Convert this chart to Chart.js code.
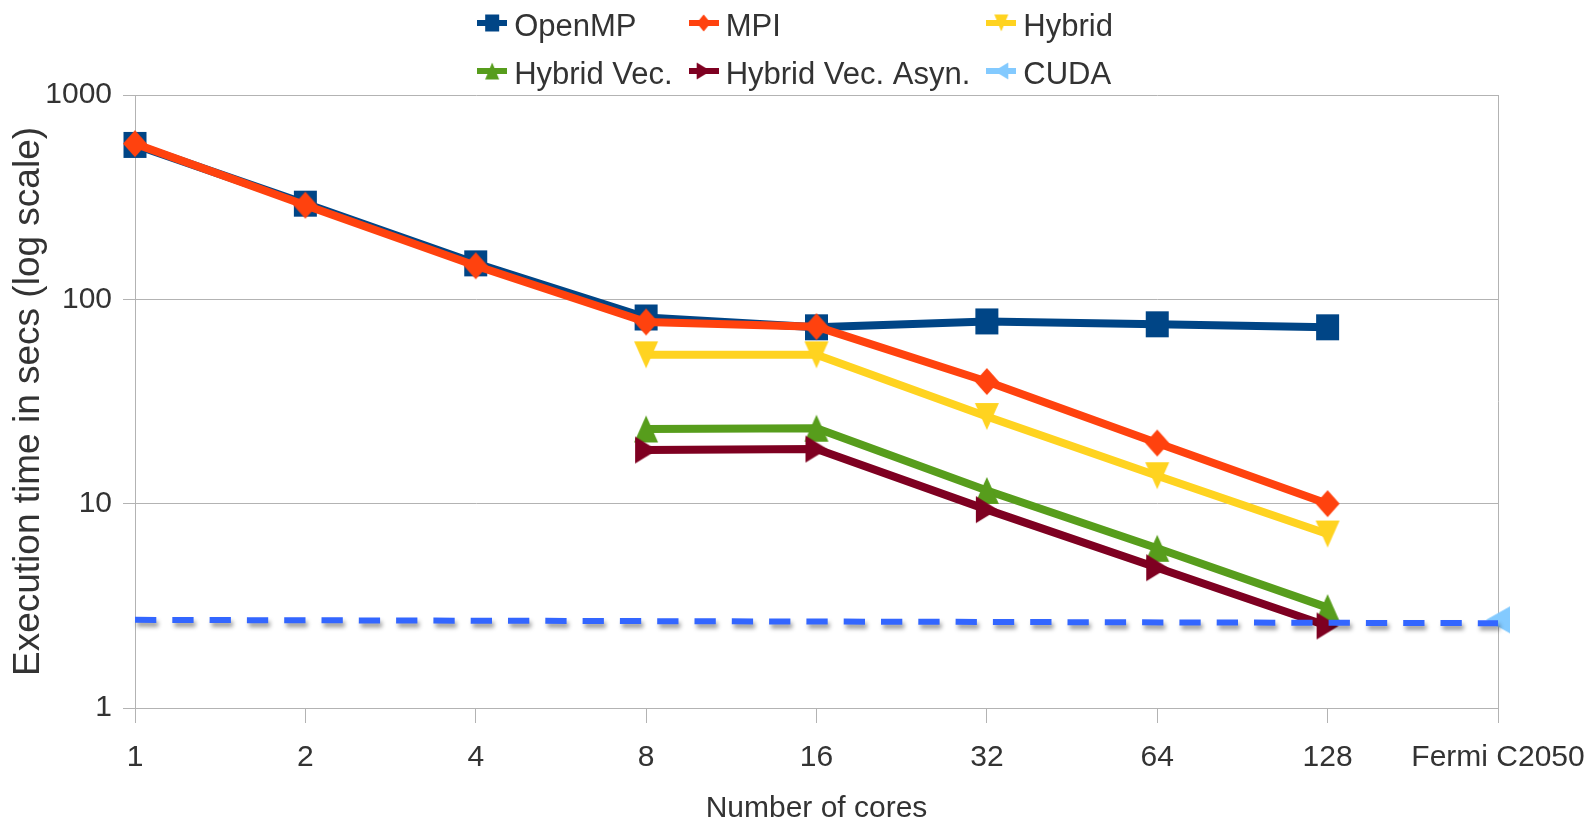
<!DOCTYPE html>
<html>
<head>
<meta charset="utf-8">
<script src="https://cdn.jsdelivr.net/npm/chart.js@4.4.0/dist/chart.umd.min.js"></script>
<style>
  html, body { margin: 0; padding: 0; background: #ffffff; overflow: hidden; }
  #wrap { position: relative; width: 1590px; height: 821px; background: #ffffff; }
</style>
</head>
<body>
<div id="wrap"><canvas id="chart"></canvas></div>
<script>
// ---- data ----
const categories = ['1', '2', '4', '8', '16', '32', '64', '128', 'Fermi C2050'];
const openmp        = [570, 294, 150, 81.5, 73, 78, 75.5, 73, null];
const mpi           = [578, 289, 146, 77.5, 73.5, 39.6, 19.8, 10, null];
const hybrid        = [null, null, null, 53.5, 53.5, 26.7, 13.7, 7.1, null];
const hybridVec     = [null, null, null, 23.2, 23.4, 11.6, 6.05, 3.1, null];
const hybridVecAsyn = [null, null, null, 18.3, 18.5, 9.35, 4.86, 2.52, null];
const cuda          = [null, null, null, null, null, null, null, null, 2.7];
const cudaLevel     = [2.7, null, null, null, null, null, null, null, 2.6];
const yTickValues   = [1, 10, 100, 1000];

const seriesNames  = ['OpenMP', 'MPI', 'Hybrid', 'Hybrid Vec.', 'Hybrid Vec. Asyn.', 'CUDA'];
const seriesColors = ['#004586', '#ff420e', '#ffd320', '#579d1c', '#7e0021', '#83caff'];
const seriesShapes = ['square', 'diamond', 'down', 'up', 'right', 'left'];
const seriesData   = [openmp, mpi, hybrid, hybridVec, hybridVecAsyn, cuda];

const FONT = 'Liberation Sans, Arial, sans-serif';
const TEXT = '#333333';
const GRID = '#b3b3b3';

// ---- marker symbols ----
function shapePath(g, shape, w, h) {
  const a = w / 2, b = h / 2;
  g.beginPath();
  switch (shape) {
    case 'square':  g.rect(-a, -b, w, h); break;
    case 'diamond': g.moveTo(0, -b); g.lineTo(a, 0); g.lineTo(0, b); g.lineTo(-a, 0); break;
    case 'down':    g.moveTo(-a, -b); g.lineTo(a, -b); g.lineTo(0, b); break;
    case 'up':      g.moveTo(0, -b); g.lineTo(a, b); g.lineTo(-a, b); break;
    case 'right':   g.moveTo(-a, -b); g.lineTo(a, 0); g.lineTo(-a, b); break;
    case 'left':    g.moveTo(a, -b); g.lineTo(-a, 0); g.lineTo(a, b); break;
  }
  g.closePath();
}

const markerSize = {
  square: [23, 26], diamond: [24, 27], down: [24, 27],
  up: [24, 27], right: [22, 27], left: [24, 27]
};

function markerCanvas(shape, color) {
  const [w, h] = markerSize[shape];
  const c = document.createElement('canvas');
  c.width = w + 2; c.height = h + 2;
  const g = c.getContext('2d');
  g.translate(c.width / 2, c.height / 2);
  g.fillStyle = color;
  shapePath(g, shape, w, h);
  g.fill();
  return c;
}

// legend key: short line with a small marker on it
function legendSymbol(shape, color) {
  const c = document.createElement('canvas');
  c.width = 30; c.height = 20;
  const g = c.getContext('2d');
  g.fillStyle = color;
  g.fillRect(0, 7, 30, 6);
  g.translate(15, 10);
  shapePath(g, shape, 14, 17);
  g.fill();
  return c;
}

// ---- legend drawn as a 3-column grid above the plot ----
const legendGrid = {
  id: 'legendGrid',
  afterDraw(chart, args, opts) {
    const ctx = chart.ctx;
    const cols = opts.columns;
    const symW = 30, symGap = 7, colGap = 16;
    ctx.save();
    ctx.font = opts.fontSize + 'px ' + FONT;
    ctx.fillStyle = TEXT;
    ctx.textBaseline = 'alphabetic';
    ctx.textAlign = 'left';
    const widths = seriesNames.map(n => symW + symGap + ctx.measureText(n).width);
    const colW = [];
    for (let c = 0; c < cols; c++) {
      let m = 0;
      for (let i = c; i < seriesNames.length; i += cols) m = Math.max(m, widths[i]);
      colW.push(m);
    }
    const total = colW.reduce((s, v) => s + v, 0) + colGap * (cols - 1);
    const x0 = (chart.width - total) / 2;
    seriesNames.forEach((name, i) => {
      const r = Math.floor(i / cols), c = i % cols;
      let x = x0;
      for (let k = 0; k < c; k++) x += colW[k] + colGap;
      const base = opts.baselines[r];
      const sym = legendSymbol(seriesShapes[i], seriesColors[i]);
      ctx.drawImage(sym, x, base - 13 - sym.height / 2);
      ctx.fillText(name, x + symW + symGap, base);
    });
    ctx.restore();
  }
};

// ---- soft drop shadow for datasets flagged with `shadow` ----
const lineShadow = {
  id: 'lineShadow',
  beforeDatasetDraw(chart, args) {
    const ds = chart.data.datasets[args.index];
    if (!ds.shadow) return;
    const ctx = chart.ctx;
    ctx.save();
    ctx.shadowColor = 'rgba(0,0,0,0.38)';
    ctx.shadowBlur = 4;
    ctx.shadowOffsetX = 2;
    ctx.shadowOffsetY = 4;
  },
  afterDatasetDraw(chart, args) {
    const ds = chart.data.datasets[args.index];
    if (!ds.shadow) return;
    chart.ctx.restore();
  }
};

const datasets = seriesNames.map((name, i) => ({
  label: name,
  data: seriesData[i],
  borderColor: seriesColors[i],
  backgroundColor: seriesColors[i],
  borderWidth: 8,
  borderJoinStyle: 'round',
  pointStyle: markerCanvas(seriesShapes[i], seriesColors[i]),
  pointRadius: 12,
  pointHoverRadius: 12,
  tension: 0,
  clip: false,
  order: 10 - i
}));

datasets.push({
  label: 'CUDA level',
  data: cudaLevel,
  borderColor: '#3366ff',
  backgroundColor: '#3366ff',
  borderWidth: 6,
  borderDash: [21.3, 16],
  borderCapStyle: 'butt',
  pointRadius: 0,
  spanGaps: true,
  tension: 0,
  clip: false,
  shadow: true,
  order: 1
});

new Chart(document.getElementById('chart'), {
  type: 'line',
  data: { labels: categories, datasets },
  plugins: [legendGrid, lineShadow],
  options: {
    responsive: true,
    maintainAspectRatio: false,
    animation: false,
    events: [],
    layout: { padding: { top: 95, right: 92, bottom: 0, left: 0 } },
    plugins: {
      legend: { display: false },
      tooltip: { enabled: false },
      legendGrid: { columns: 3, fontSize: 31, baselines: [36, 84] }
    },
    scales: {
      x: {
        type: 'category',
        offset: false,
        afterFit: s => {
          s.height = 113;
          // end labels may spill past the plot edges; the page margin holds them
          s.paddingLeft = 0;
          s.paddingRight = 0;
        },
        ticks: {
          font: { family: FONT, size: 30 },
          color: TEXT,
          padding: 17,
          maxRotation: 0,
          autoSkip: false
        },
        grid: {
          color: c => (c.index === categories.length - 1 ? GRID : 'rgba(0,0,0,0)'),
          tickColor: GRID,
          tickLength: 15,
          lineWidth: 1,
          offset: false
        },
        border: { color: GRID, width: 1 },
        title: {
          display: true,
          text: 'Number of cores',
          font: { family: FONT, size: 30, lineHeight: 0.83 },
          color: TEXT,
          padding: 0
        }
      },
      y: {
        type: 'logarithmic',
        min: 1,
        max: 1000,
        afterBuildTicks: s => { s.ticks = yTickValues.map(v => ({ value: v })); },
        afterFit: s => { s.width = 135; },
        ticks: {
          font: { family: FONT, size: 30 },
          color: TEXT,
          padding: 11,
          callback: v => String(v)
        },
        grid: { color: GRID, lineWidth: 1, tickLength: 12, drawTicks: true },
        border: { color: GRID, width: 1 },
        title: {
          display: true,
          text: 'Execution time in secs (log scale)',
          font: { family: FONT, size: 37, lineHeight: 1 },
          color: TEXT,
          padding: { top: 10, bottom: 0 }
        }
      }
    }
  }
});
</script>
</body>
</html>
